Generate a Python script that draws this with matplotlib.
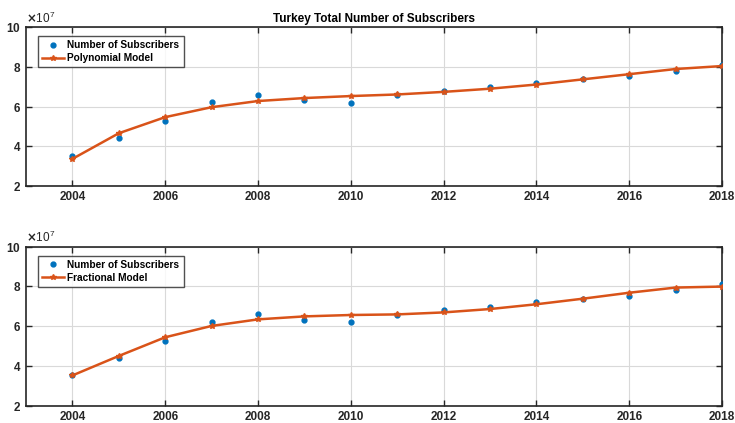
import numpy as np
import matplotlib.pyplot as plt
from matplotlib.ticker import ScalarFormatter

plt.rcParams['font.family'] = ['Liberation Sans', 'DejaVu Sans']
plt.rcParams['font.weight'] = 'bold'

years = list(range(2004, 2019))

# subscribers (x1e7)
subscribers = [3.52, 4.41, 5.27, 6.21, 6.59, 6.31, 6.19, 6.56, 6.80, 6.98,
               7.21, 7.37, 7.52, 7.80, 8.10]
polynomial_fit = [3.37, 4.66, 5.47, 5.97, 6.28, 6.43, 6.53, 6.61, 6.74, 6.90,
                  7.11, 7.37, 7.63, 7.89, 8.04]
fractional_fit = [3.52, 4.50, 5.44, 6.01, 6.34, 6.49, 6.56, 6.59, 6.69, 6.86,
                  7.10, 7.38, 7.68, 7.94, 7.99]

BLUE = '#0072BD'
ORANGE = '#D95319'
EDGE = '#262626'

fig = plt.figure(figsize=(7.35, 4.23), dpi=100)
ax_top = fig.add_axes([0.0354, 0.560, 0.9469, 0.376])
ax_bot = fig.add_axes([0.0354, 0.041, 0.9469, 0.376])


def style_axes(ax, model, label):
    x = np.array(years)
    ax.plot(x, np.array(subscribers) * 1e7, 'o', color=BLUE, markersize=3.5,
            label='Number of Subscribers', zorder=3)
    ax.plot(x, np.array(model) * 1e7, '-*', color=ORANGE, linewidth=1.8,
            markersize=4, label=label, zorder=4)
    ax.set_xlim(2003, 2018)
    ax.set_ylim(2e7, 10e7)
    ax.set_xticks(range(2004, 2019, 2))
    ax.set_yticks([2e7, 4e7, 6e7, 8e7, 10e7])
    fmt = ScalarFormatter(useMathText=True)
    fmt.set_powerlimits((7, 7))
    ax.yaxis.set_major_formatter(fmt)
    off = ax.yaxis.get_offset_text()
    off.set_fontsize(8.5)
    off.set_fontweight('normal')
    off.set_color('#555555')
    ax.grid(True, color='#d9d9d9', linewidth=0.8)
    ax.set_axisbelow(True)
    ax.tick_params(direction='in', top=True, right=True, labelsize=8.5,
                   colors=EDGE, length=4, width=1)
    for sp in ax.spines.values():
        sp.set_color(EDGE)
        sp.set_linewidth(1.2)
    leg = ax.legend(loc='upper left', fontsize=7.3, frameon=True, fancybox=False,
                    edgecolor=EDGE, borderpad=0.4, handlelength=2.2,
                    handletextpad=0.3, labelspacing=0.3,
                    bbox_to_anchor=(0.010, 0.975))
    leg.get_frame().set_linewidth(1.0)


style_axes(ax_top, polynomial_fit, 'Polynomial Model')
style_axes(ax_bot, fractional_fit, 'Fractional Model')
ax_top.set_title('Turkey Total Number of Subscribers', fontsize=8.5,
                 fontweight='bold', pad=4)

fig.savefig('out.png', dpi=100)
